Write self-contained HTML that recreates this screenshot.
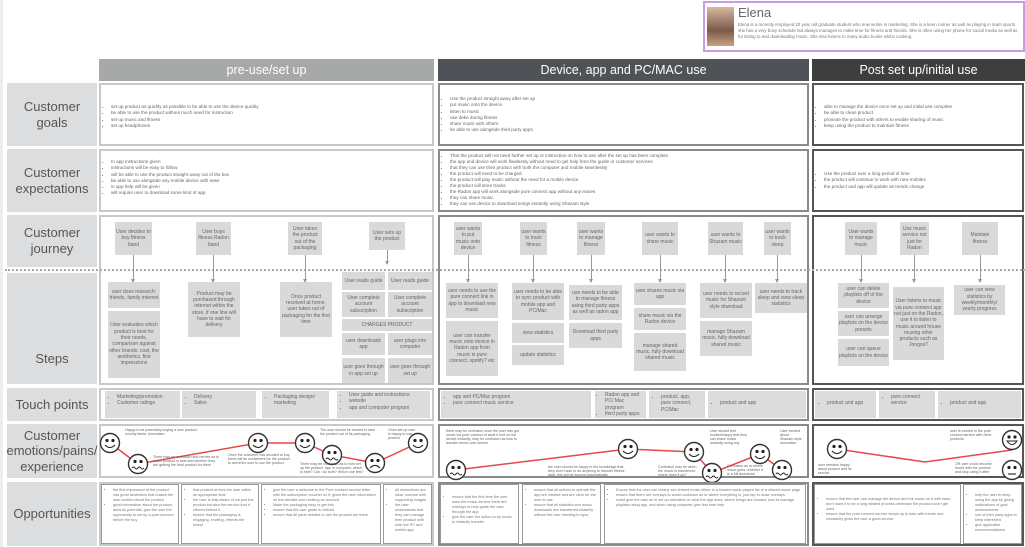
<!DOCTYPE html>
<html><head><meta charset="utf-8"><style>
*{margin:0;padding:0;box-sizing:border-box}
body{width:1025px;height:547px;background:#fff;position:relative;overflow:hidden;font-family:"Liberation Sans",sans-serif;color:#555}
.a{position:absolute}
.lab{position:absolute;left:7px;width:90px;background:#dcdddf;color:#555;font-size:13px;text-align:center;display:flex;align-items:center;justify-content:center;line-height:1.2}
.hd{position:absolute;top:59px;height:22px;color:#fff;font-size:12.5px;display:flex;align-items:center;justify-content:center}
.c1{border:2px solid #c8c8c8;background:#fff}
.c2{border:2px solid #8a8a8a;background:#fff}
.c3{border:2px solid #555;background:#fff}
.t{font-size:4.6px;line-height:6.3px;color:#666}
.t ul{padding-left:10px}
.b{position:absolute;background:#d9d9da;font-size:5px;line-height:6.3px;color:#666;text-align:center;display:flex;align-items:center;justify-content:center;padding:1px}
.tp{position:absolute;background:#dcdcdd;font-size:5px;line-height:6.4px;color:#666;padding:3px 4px;overflow:hidden}
.tp ul{padding-left:8px}
.ob{position:absolute;border:1px solid #999;background:#fff;font-size:3.8px;line-height:5px;color:#777;padding:3px 3px;overflow:hidden}
.ob ul{padding-left:8px}
.ar{position:absolute;width:1px;background:#999}
.ar:after{content:"";position:absolute;left:-2px;bottom:-1px;border-left:2.5px solid transparent;border-right:2.5px solid transparent;border-top:4px solid #999}
</style></head><body>
<div class="a" style="left:0;top:0;width:3px;height:547px;background:#eee"></div>
<div class="a" style="left:703px;top:1px;width:322px;height:51px;border:2px solid #c99be0;background:#fff"></div>
<div class="a" style="left:707px;top:7px;width:27px;height:39px;background:linear-gradient(#d8b8a0,#7a5a4a 60%,#c9a080)"></div>
<div class="a" style="left:738px;top:5px;font-size:13px;color:#666">Elena</div>
<div class="a" style="left:738px;top:22px;width:284px;font-size:4.4px;line-height:6.2px;color:#777">Elena is a recently employed 20 year old graduate student who now works in marketing. She is a keen runner as well as playing in team sports. she has a very busy schedule but always manages to make time for fitness and friends. She is often using her phone for social media as well as for listing to and downloading music. She also listens to many audio books whilst cooking.</div>
<div class="hd" style="left:99px;width:335px;background:#a7a9a8">pre-use/set up</div>
<div class="hd" style="left:438px;width:371px;background:#4f5358">Device, app and PC/MAC use</div>
<div class="hd" style="left:812px;width:213px;background:#3e3e3e">Post set up/initial use</div>
<div class="lab" style="top:83px;height:63px">Customer goals</div>
<div class="lab" style="top:149px;height:63px">Customer<br>expectations</div>
<div class="lab" style="top:215px;height:52px">Customer<br>journey</div>
<div class="lab" style="top:273px;height:111px;padding-top:60px">Steps</div>
<div class="lab" style="top:388px;height:33px">Touch points</div>
<div class="lab" style="top:424px;height:54px">Customer<br>emotions/pains/<br>experience</div>
<div class="lab" style="top:482px;height:64px">Opportunities</div>
<div class="a c1 t" style="left:99px;top:83px;width:335px;height:63px;padding-top:19px"><ul><li>set up product as quickly as possible to be able to use the device quickly</li><li>be able to use the product without much need for instruction</li><li>set up music and fitness</li><li>set up headphones</li></ul></div>
<div class="a c2 t" style="left:438px;top:83px;width:371px;height:63px;padding-top:11px"><ul><li>Use the product straight away after set up</li><li>put music onto the device</li><li>listen to music</li><li>use deke during fitness</li><li>share music with others</li><li>be able to use alongside third party apps</li></ul></div>
<div class="a c3 t" style="left:812px;top:83px;width:212px;height:63px;padding-top:19px"><ul><li>able to manage the device once set up and initial use complete</li><li>be able to clean product</li><li>promote the product with others to enable sharing of music</li><li>keep using the product to maintain fitness</li></ul></div>
<div class="a c1 t" style="left:99px;top:149px;width:335px;height:63px;padding-top:8px"><ul><li>In app instructions given</li><li>instructions will be easy to follow</li><li>will be able to use the product straight away out of the box</li><li>be able to use alongside any mobile device with ease</li><li>in app help will be given</li><li>will require user to download some kind of app</li></ul></div>
<div class="a c2 t" style="left:438px;top:149px;width:371px;height:63px;padding-top:2px;line-height:6px"><ul><li>That the product will not need further set up or instruction on how to use after the set up has been complete</li><li>the app and device will work flawlessly without need to get help from the guide or customer services</li><li>that they can use their product with both the computer and mobile seamlessly</li><li>the product will need to be charged</li><li>the product will play music without the need for a mobile device</li><li>the product will store tracks</li><li>the Radon app will work alongside pure connect app without any issues</li><li>they can share music</li><li>they can use device to download songs instantly using Shazam style</li></ul></div>
<div class="a c3 t" style="left:812px;top:149px;width:212px;height:63px;padding-top:20px"><ul><li>Use the product over a long period of time</li><li>the product will continue to work with new mobiles</li><li>the product and app will update as trends change</li></ul></div>
<div class="a c1" style="left:99px;top:215px;width:335px;height:170px"></div>
<div class="a c2" style="left:438px;top:215px;width:371px;height:170px"></div>
<div class="a c3" style="left:812px;top:215px;width:212px;height:170px"></div>
<div class="a" style="left:5px;top:269px;width:1020px;border-top:2px dotted #aaa"></div>
<div class="b" style="left:115px;top:222px;width:37px;height:33px">User decides to buy fitness band</div>
<div class="b" style="left:196px;top:222px;width:35px;height:33px">User buys fitness Radon band</div>
<div class="b" style="left:288px;top:222px;width:34px;height:33px">User takes the product out of the packaging</div>
<div class="b" style="left:369px;top:222px;width:36px;height:28px">User sets up the product</div>
<div class="ar" style="left:133px;top:255px;height:27px"></div>
<div class="ar" style="left:213px;top:255px;height:27px"></div>
<div class="ar" style="left:305px;top:255px;height:27px"></div>
<div class="ar" style="left:387px;top:250px;height:14px"></div>
<div class="b" style="left:108px;top:282px;width:52px;height:26px">user does research: friends, family internet</div>
<div class="b" style="left:108px;top:311px;width:52px;height:67px">User evaluates which product is best for their needs, comparison against other brands: cost, the aesthetics, first impressions</div>
<div class="b" style="left:188px;top:282px;width:52px;height:55px">Product may be purchased through internet within the store, if one line will have to wait for delivery</div>
<div class="b" style="left:280px;top:282px;width:52px;height:55px">Once product received at home, user takes out of packaging for the first time</div>
<div class="b" style="left:342px;top:272px;width:43px;height:18px">User reads guide</div>
<div class="b" style="left:388px;top:272px;width:44px;height:18px">User reads guide</div>
<div class="b" style="left:342px;top:292px;width:43px;height:25px">User complete account subscription</div>
<div class="b" style="left:388px;top:292px;width:44px;height:25px">User complete account subscription</div>
<div class="b" style="left:342px;top:319px;width:90px;height:12px">CHARGES PRODUCT</div>
<div class="b" style="left:342px;top:333px;width:43px;height:22px">user downloads app</div>
<div class="b" style="left:388px;top:333px;width:44px;height:22px">user plugs into computer</div>
<div class="b" style="left:342px;top:358px;width:43px;height:25px">user goes through in app set up</div>
<div class="b" style="left:388px;top:358px;width:44px;height:25px">user goes through set up</div>
<div class="b" style="left:454px;top:222px;width:28px;height:33px">user wants to put music onto device</div>
<div class="b" style="left:520px;top:222px;width:27px;height:33px">user wants to track fitness</div>
<div class="b" style="left:577px;top:222px;width:28px;height:33px">user wants to manage fitness</div>
<div class="b" style="left:642px;top:222px;width:36px;height:33px">user wants to share music</div>
<div class="b" style="left:708px;top:222px;width:35px;height:33px">user wants to Shazam music</div>
<div class="b" style="left:764px;top:222px;width:27px;height:33px">user wants to track sleep</div>
<div class="ar" style="left:468px;top:255px;height:27px"></div>
<div class="ar" style="left:533px;top:255px;height:27px"></div>
<div class="ar" style="left:591px;top:255px;height:27px"></div>
<div class="ar" style="left:660px;top:255px;height:27px"></div>
<div class="ar" style="left:725px;top:255px;height:27px"></div>
<div class="ar" style="left:777px;top:255px;height:27px"></div>
<div class="b" style="left:446px;top:283px;width:52px;height:35px">user needs to use the pure connect link in app to download new music</div>
<div class="b" style="left:446px;top:321px;width:52px;height:55px">user can transfer music onto device in Radon app from music in pure connect, spotify? etc</div>
<div class="b" style="left:512px;top:283px;width:52px;height:37px">user needs to be able to sync product with mobile app and PC/Mac</div>
<div class="b" style="left:512px;top:323px;width:52px;height:20px">view statistics</div>
<div class="b" style="left:512px;top:345px;width:52px;height:20px">update statistics</div>
<div class="b" style="left:569px;top:285px;width:53px;height:35px">use needs to be able to manage fitness using third party apps as well as radon app</div>
<div class="b" style="left:569px;top:323px;width:53px;height:25px">Download third party apps</div>
<div class="b" style="left:634px;top:283px;width:52px;height:22px">user shares music via app</div>
<div class="b" style="left:634px;top:308px;width:52px;height:22px">share music via the Radon device</div>
<div class="b" style="left:634px;top:333px;width:52px;height:38px">manage shared music, fully download shared music</div>
<div class="b" style="left:700px;top:283px;width:52px;height:35px">user needs to record music for Shazam style download</div>
<div class="b" style="left:700px;top:321px;width:52px;height:35px">manage Shazam music, fully download shared music</div>
<div class="b" style="left:755px;top:283px;width:52px;height:30px">user needs to track sleep and view sleep statistics</div>
<div class="b" style="left:845px;top:222px;width:32px;height:33px">User wants to manage music</div>
<div class="b" style="left:900px;top:222px;width:29px;height:33px">Use music service not just for Radon</div>
<div class="b" style="left:962px;top:222px;width:36px;height:33px">Maintain fitness</div>
<div class="ar" style="left:861px;top:255px;height:27px"></div>
<div class="ar" style="left:914px;top:255px;height:27px"></div>
<div class="ar" style="left:980px;top:255px;height:27px"></div>
<div class="b" style="left:838px;top:283px;width:51px;height:25px">user can delete playlists off of the device</div>
<div class="b" style="left:838px;top:311px;width:51px;height:25px">user can arrange playlists on the device presets</div>
<div class="b" style="left:838px;top:339px;width:51px;height:27px">user can queue playlists on the device</div>
<div class="b" style="left:893px;top:287px;width:51px;height:73px">User listens to music via pure connect app not just on the Radon, use it to listen to music around house musing other products such as Jongos?</div>
<div class="b" style="left:954px;top:285px;width:51px;height:30px">user can view statistics by weekly/monthly/ yearly progress</div>
<div class="a c1" style="left:99px;top:388px;width:335px;height:33px"></div>
<div class="a c2" style="left:438px;top:388px;width:371px;height:33px"></div>
<div class="a c3" style="left:812px;top:388px;width:212px;height:33px"></div>
<div class="tp" style="left:105px;top:391px;width:75px;height:27px"><ul><li>Marketing/promotion</li><li>Customer ratings</li></ul></div>
<div class="tp" style="left:182px;top:391px;width:74px;height:27px"><ul><li>Delivery</li><li>Sales</li></ul></div>
<div class="tp" style="left:262px;top:391px;width:67px;height:27px"><ul><li>Packaging design/ marketing</li></ul></div>
<div class="tp" style="left:337px;top:391px;width:93px;height:27px;padding-top:1px"><ul><li>User guide and instructions</li><li>website</li><li>app and computer program</li></ul></div>
<div class="tp" style="left:441px;top:391px;width:150px;height:27px"><ul><li>app and PC/Mac program</li><li>pure connect music service</li></ul></div>
<div class="tp" style="left:595px;top:391px;width:51px;height:27px;padding:1px 2px"><ul><li>Radon app and PC/ Mac program</li><li>third party apps</li></ul></div>
<div class="tp" style="left:649px;top:391px;width:56px;height:27px"><ul><li>product, app, pure connect, PC/Mac</li></ul></div>
<div class="tp" style="left:708px;top:391px;width:98px;height:27px;padding-top:9px"><ul><li>product and app</li></ul></div>
<div class="tp" style="left:815px;top:391px;width:61px;height:27px;padding-top:9px"><ul><li>product and app</li></ul></div>
<div class="tp" style="left:879px;top:391px;width:56px;height:27px"><ul><li>pure connect service</li></ul></div>
<div class="tp" style="left:938px;top:391px;width:83px;height:27px;padding-top:9px"><ul><li>product and app</li></ul></div>
<div class="a c1" style="left:99px;top:424px;width:335px;height:54px"></div>
<div class="a c2" style="left:438px;top:424px;width:371px;height:54px"></div>
<div class="a c3" style="left:812px;top:424px;width:212px;height:54px"></div>
<svg class="a" style="left:0;top:0" width="1025" height="547" font-family="Liberation Sans, sans-serif">
<defs>
<g id="h"><circle r="9.5" fill="#fff" stroke="#333" stroke-width="1.4"/><circle cx="-3" cy="-2.5" r="1.6" fill="#222"/><circle cx="3" cy="-2.5" r="1.6" fill="#222"/><path d="M-5 2 Q0 7 5 2" fill="none" stroke="#222" stroke-width="1.1"/></g>
<g id="w"><circle r="9.5" fill="#fff" stroke="#333" stroke-width="1.4"/><circle cx="-3" cy="-2.5" r="1.6" fill="#222"/><circle cx="3" cy="-2.5" r="1.6" fill="#222"/><path d="M-6 4 q1.5 -2 3 0 t3 0 t3 0 t3 0" fill="none" stroke="#222" stroke-width="1"/></g>
<g id="s"><circle r="9.5" fill="#fff" stroke="#333" stroke-width="1.4"/><circle cx="-3" cy="-2.5" r="1.6" fill="#222"/><circle cx="3" cy="-2.5" r="1.6" fill="#222"/><path d="M-5 5 Q0 0 5 5" fill="none" stroke="#222" stroke-width="1.1"/></g>
<g id="n"><circle r="9.5" fill="#fff" stroke="#333" stroke-width="1.4"/><circle cx="-3" cy="-2.5" r="1.6" fill="#222"/><circle cx="3" cy="-2.5" r="1.6" fill="#222"/><path d="M-4 4 H4" stroke="#222" stroke-width="1.1"/></g>
<g id="g"><circle r="9.5" fill="#fff" stroke="#333" stroke-width="1.4"/><circle cx="-3" cy="-3" r="1.6" fill="#222"/><circle cx="3" cy="-3" r="1.6" fill="#222"/><path d="M-5 1 H5 Q0 8 -5 1Z" fill="#fff" stroke="#222" stroke-width="1"/></g>
</defs>
<polyline points="110,443 138,464 258,443 305,443 332,455 375,463 418,443" fill="none" stroke="#e8474b" stroke-width="1.5"/>
<polyline points="456,470 628,449 694,452 712,473 760,454 782,470" fill="none" stroke="#e8474b" stroke-width="1.5"/>
<polyline points="837,449 925,462 1012,450" fill="none" stroke="#e8474b" stroke-width="1.5"/>
<use href="#h" x="110" y="443"/><use href="#w" x="138" y="464"/><use href="#h" x="258" y="443"/><use href="#h" x="305" y="443"/><use href="#w" x="332" y="455"/><use href="#s" x="375" y="463"/><use href="#h" x="418" y="443"/>
<use href="#w" x="456" y="470"/><use href="#h" x="628" y="449"/><use href="#h" x="694" y="452"/><use href="#w" x="712" y="473"/><use href="#h" x="760" y="454"/><use href="#w" x="782" y="470"/>
<use href="#h" x="837" y="449"/><use href="#g" x="1012" y="440"/><use href="#n" x="1012" y="470"/>
<g font-size="3.6" fill="#666">
<text x="125" y="431">Happy to be potentially buying a new product,</text><text x="125" y="435">novelty factor, innovation</text>
<text x="153" y="458">There may be confusion and nerves as to</text><text x="153" y="462">which product is best and whether they</text><text x="153" y="466">are getting the best product for them</text>
<text x="228" y="456">Once the customer has decided to buy</text><text x="228" y="460">there will be excitement for the product</text><text x="228" y="464">to arrive/for user to use the product</text>
<text x="320" y="431">The user should be excited to take</text><text x="320" y="435">the product out of its packaging</text>
<text x="300" y="465">There may be confusion as to how set</text><text x="300" y="469">up the product, app or computer, which</text><text x="300" y="473">is best? Can i do both? Which one first?</text>
<text x="388" y="431">Once set up user</text><text x="388" y="435">is happy to use</text><text x="388" y="439">product</text>
<text x="446" y="432">there may be confusion once the user has got</text><text x="446" y="436">music via pure connect of what it isn't on the</text><text x="446" y="440">device instantly, may be confusion as how to</text><text x="446" y="444">transfer music onto device</text>
<text x="548" y="468">the user should be happy in the knowledge that</text><text x="548" y="472">they don't have to do anything to transfer fitness</text><text x="548" y="476">data, this will be synced automatically</text>
<text x="658" y="468">Confusion may be when</text><text x="658" y="472">the music is transferred</text><text x="658" y="476">where does it go?</text>
<text x="710" y="432">User should feel</text><text x="710" y="436">excited/happy that they</text><text x="710" y="440">can share music</text><text x="710" y="444">instantly using any</text>
<text x="727" y="467">Confusion as to where</text><text x="727" y="471">music goes, whether it</text><text x="727" y="475">is a full download</text>
<text x="780" y="432">User excited</text><text x="780" y="436">about</text><text x="780" y="440">Shazam style</text><text x="780" y="444">innovation</text>
<text x="818" y="466">user remains happy</text><text x="818" y="470">about product and its</text><text x="818" y="474">service</text>
<text x="950" y="432">user is excited in the pure</text><text x="950" y="436">connect service with other</text><text x="950" y="440">products</text>
<text x="955" y="465">OR user could become</text><text x="955" y="469">bored with the product</text><text x="955" y="473">and stop using it after</text>
</g>
</svg>
<div class="a c1" style="left:99px;top:482px;width:335px;height:64px"></div>
<div class="a c2" style="left:438px;top:482px;width:371px;height:64px"></div>
<div class="a c3" style="left:812px;top:482px;width:212px;height:64px"></div>
<div class="ob" style="left:101px;top:484px;width:78px;height:60px"><ul><li>the first impression of the product has great aesthetics that makes the user excited about the product</li><li>good information about the product ands its potential, give the user the opportunity to set up a pure account before the buy</li></ul></div>
<div class="ob" style="left:181px;top:484px;width:78px;height:60px"><ul><li>that product arrives the user within an appropriate time</li><li>the user is fully aware of not just the product but also the service that it offered behind it</li><li>ensure that the packaging is engaging, exciting, reflects the brand</li></ul></div>
<div class="ob" style="left:261px;top:484px;width:120px;height:60px"><ul><li>give the user a welcome to the Pure connect service letter with the subscription voucher on it, gives the user information on the website and creating an account</li><li>Make the packaging easy to get into</li><li>ensure that the user guide is noticed</li><li>ensure that All parts needed to use the product are there</li></ul></div>
<div class="ob" style="left:383px;top:484px;width:49px;height:60px"><ul><li>all instructions are clear, concise with supporting images</li><li>the user understands that they can manage their product with both the PC and mobile app</li></ul></div>
<div class="ob" style="left:440px;top:484px;width:79px;height:60px;padding-top:10px"><ul><li>ensure that the first time the user uses the music service there are overlays to help guide the user through the app</li><li>give the user the option to try music to instantly transfer</li></ul></div>
<div class="ob" style="left:522px;top:484px;width:79px;height:60px"><ul><li>ensure that all actions to operate the app are intuitive and are clear for the user to use</li><li>ensure that all statistics and music downloads are transferred instantly without the user needing to sync</li></ul></div>
<div class="ob" style="left:604px;top:484px;width:202px;height:60px"><ul><li>Ensure that the user can clearly see shared music either in a shared music played list or a shared music page</li><li>ensure that there are overlays to avoid confusion as to where everything is, just tap to close overlays</li><li>could give the user an in set up animation of what the app does, where things are located, how to manage playlists using app, and when using computer give first time help</li></ul></div>
<div class="ob" style="left:814px;top:484px;width:147px;height:60px;padding-top:12px"><ul><li>ensure that the user can manage the device and the music on it with ease, don't want it to be a long winded process otherwise the product won't get used</li><li>ensure that the pure connect service keeps up to date with trends and constantly gives the user a good service</li></ul></div>
<div class="ob" style="left:963px;top:484px;width:59px;height:60px;padding-top:8px"><ul><li>help the user to keep using the app by giving notifications of goal achievements</li><li>use of third party apps to keep interested</li><li>give applicable recommendations</li></ul></div>
</body></html>
